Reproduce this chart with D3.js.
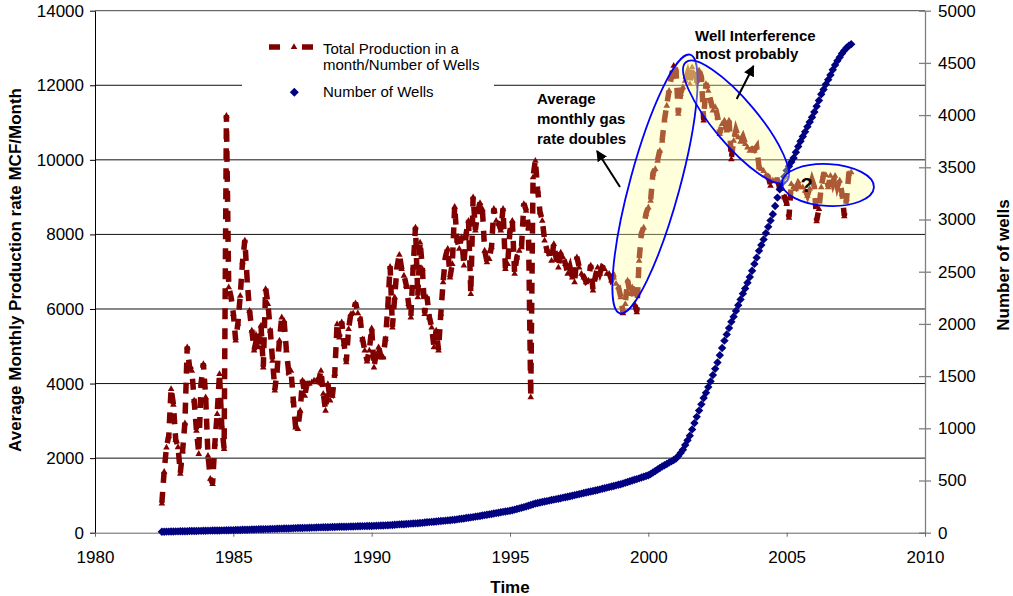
<!DOCTYPE html>
<html>
<head>
<meta charset="utf-8">
<script src="https://cdn.jsdelivr.net/npm/d3@7"></script>
<style>
  html, body { margin: 0; padding: 0; background: #fff; }
  svg { display: block; font-family: "Liberation Sans", Arial, sans-serif; }
</style>
</head>
<body>
<svg id="chart" width="1013" height="596"></svg>
<script>
// Monthly series, first month = June 1982
const startYear = 1982;
const startMonth = 6;

// Total production in a month / number of wells (MCF/Month)
const productionRate = [
  // 1982 Jun-Dec
  800, 1650, 2300, 2600, 3870, 3450, 2500,
  // 1983
  2310, 1600, 2200, 2950, 4990, 4450, 4360, 3560, 2750, 2130, 4000, 4540,
  // 1984
  3650, 2080, 1460, 1320, 2400, 3200, 4270, 2840, 2260, 11200, 6600, 6330,
  // 1985
  5880, 5170, 5620, 6370, 7270, 7850, 6780, 5970, 5440, 4900, 5170, 4990,
  // 1986
  5570, 4450, 6550, 6150, 5440, 4630, 3830, 4360, 5170, 5790, 5700, 4900,
  // 1987
  4320, 4360, 3560, 2840, 2800, 3290, 4100, 3690, 4000, 4010, 4050, 4100,
  // 1988
  4100, 4050, 4360, 3740, 3290, 4000, 3560, 3690, 4270, 5610, 5250, 5660,
  // 1989
  5080, 4590, 5480, 5880, 5900, 6170, 5900, 5750, 5200, 4900, 4610, 4900,
  // 1990
  5500, 4450, 4800, 4990, 4720, 4720, 5210, 6060, 7150, 5520, 6330, 7130,
  // 1991
  7470, 7090, 6910, 6640, 6150, 5790, 7130, 8200, 6330, 7800, 7090, 5880,
  // 1992
  6330, 5790, 5520, 4990, 5440, 4900, 5880, 6730, 7400, 7630, 6860, 7220,
  // 1993
  8760, 7850, 7630, 7940, 7180, 8030, 8380, 6420, 9010, 8120, 8610, 8860,
  // 1994
  8700, 7580, 7270, 7360, 7670, 8700, 8380, 8300, 8120, 8700, 7090, 7220,
  // 1995
  8120, 8380, 6960, 7400, 7580, 7670, 8830, 8650, 8200, 3650, 9550, 9990,
  // 1996
  9190, 8610, 8380, 7850, 7580, 7490, 7310, 7760, 7360, 7130, 7530, 7400,
  // 1997
  7220, 6960, 7130, 6860, 6730, 7400, 7130, 6960, 6860, 6730, 6780, 7180,
  // 1998
  6510, 6860, 7130, 6960, 7130, 7090, 6960, 6960, 6780, 6860, 6690, 6600,
  // 1999
  6330, 5900, 6150, 6780, 6420, 6600, 6150, 5930, 7310, 8030, 8200, 8560,
  // 2000
  8740, 8920, 9640, 9770, 9990, 10260, 10530, 11070, 11470, 11870, 12230, 12540,
  // 2001
  12410, 11250, 11780, 11960, 12140, 12320, 12050, 12500, 12320, 12140, 12410, 12230,
  // 2002
  11070, 12050, 11870, 11600, 11340, 11430, 11160, 10710, 10980, 11070, 10800, 11070,
  // 2003
  10030, 10530, 10800, 10620, 10500, 10620, 10440, 10350, 10260, 10300, 10260, 10350,
  // 2004
  9810, 9770, 9720, 9600, 9550, 9320, 9460, 9460, 9460, 9240, 9240, 9010,
  // 2005
  8830, 8460, 9370, 9280, 9240, 9370, 9280, 9280, 9190, 9050, 9240, 9460,
  // 2006
  9280, 8370, 8700, 9280, 9610, 9610, 9280, 9590, 9370, 9590, 9280, 9460,
  // 2007 Jan-May
  9100, 8500, 8970, 9640, 9680
];

// Number of producing wells
const wellCount = [
  // 1982 Jun-Dec
  0, 0, 1, 1, 2, 2, 3,
  // 1983
  3, 4, 4, 5, 5, 6, 6, 7, 7, 8, 8, 9,
  // 1984
  9, 10, 10, 11, 11, 12, 12, 13, 13, 14, 14, 15,
  // 1985
  15, 16, 17, 17, 18, 19, 19, 20, 21, 21, 22, 23,
  // 1986
  23, 24, 25, 25, 26, 27, 27, 28, 29, 29, 30, 31,
  // 1987
  31, 32, 33, 34, 35, 35, 36, 37, 37, 38, 39, 39,
  // 1988
  40, 41, 41, 42, 43, 43, 44, 45, 45, 46, 47, 47,
  // 1989
  48, 48, 49, 50, 50, 51, 52, 52, 53, 53, 54, 55,
  // 1990
  55, 56, 57, 58, 59, 60, 61, 62, 63, 64, 66, 68,
  // 1991
  70, 71, 72, 74, 75, 77, 78, 80, 81, 83, 85, 88,
  // 1992
  90, 92, 94, 96, 98, 100, 102, 104, 106, 108, 110, 113,
  // 1993
  115, 118, 121, 124, 127, 131, 134, 137, 140, 144, 147, 151,
  // 1994
  155, 159, 162, 166, 170, 174, 178, 182, 186, 190, 194, 197,
  // 1995
  200, 205, 211, 217, 223, 229, 235, 242, 249, 256, 263, 270,
  // 1996
  275, 280, 284, 289, 293, 298, 303, 307, 312, 316, 321, 326,
  // 1997
  330, 335, 340, 345, 350, 355, 360, 365, 370, 375, 380, 385,
  // 1998
  390, 395, 400, 405, 411, 416, 422, 427, 433, 438, 444, 450,
  // 1999
  455, 462, 469, 476, 483, 490, 497, 504, 511, 519, 526, 533,
  // 2000
  540, 553, 567, 581, 596, 610, 625, 637, 649, 662, 674, 687,
  // 2001
  700, 725, 755, 785, 830, 875, 920, 980, 1040, 1100, 1160, 1220,
  // 2002
  1280, 1330, 1385, 1440, 1500, 1560, 1620, 1690, 1760, 1830, 1890, 1950,
  // 2003
  2010, 2060, 2115, 2170, 2225, 2280, 2330, 2385, 2440, 2500, 2565, 2625,
  // 2004
  2690, 2745, 2800, 2860, 2920, 2980, 3040, 3120, 3200, 3280, 3340, 3400,
  // 2005
  3460, 3500, 3540, 3580, 3635, 3690, 3740, 3785, 3830, 3880, 3925, 3970,
  // 2006
  4020, 4075, 4130, 4190, 4235, 4285, 4330, 4375, 4425, 4470, 4510, 4545,
  // 2007 Jan-May
  4580, 4610, 4635, 4655, 4670
];

const xTicks = [1980, 1985, 1990, 1995, 2000, 2005, 2010];
const rateTicks = [0, 2000, 4000, 6000, 8000, 10000, 12000, 14000];
const wellTicks = [0, 500, 1000, 1500, 2000, 2500, 3000, 3500, 4000, 4500, 5000];

const legendLabels = [["Total Production in a", "month/Number of Wells"], ["Number of Wells"]];
const noteRateDoubles = ["Average", "monthly gas", "rate doubles"];
const noteInterference = ["Well Interference", "most probably"];

const FONT = '"Liberation Sans", Arial, sans-serif';
const MAROON = "#800000";
const NAVY = "#000080";

const svg = d3.select("#chart");

const x = d3.scaleLinear().domain([1980, 2010]).range([95, 925]);
const yRate = d3.scaleLinear().domain([0, 14000]).range([532.7, 10.7]);
const yWells = d3.scaleLinear().domain([0, 5000]).range([532.7, 10.7]);
const monthTime = i => startYear + (startMonth - 1 + i) / 12;

// horizontal gridlines from the rate axis
svg.append("g")
  .selectAll("line")
  .data(rateTicks.filter(v => v > 0))
  .join("line")
  .attr("x1", 95).attr("x2", 925)
  .attr("y1", d => yRate(d)).attr("y2", d => yRate(d))
  .attr("stroke", d => d === 14000 ? "#444" : "#111")
  .attr("stroke-width", 1);

// left axis
const gLeft = svg.append("g")
  .attr("transform", "translate(95,0)")
  .call(d3.axisLeft(yRate).tickValues(rateTicks).tickSize(5).tickSizeOuter(0).tickPadding(6).tickFormat(d3.format("d")));
gLeft.attr("font-size", 17).attr("font-family", FONT);
gLeft.select(".domain").attr("stroke", "#000");
gLeft.selectAll(".tick line").attr("stroke", "#000");
gLeft.selectAll(".tick text").attr("fill", "#000");

// right axis (ticks cross the axis line)
const gRight = svg.append("g")
  .attr("transform", "translate(925,0)")
  .call(d3.axisRight(yWells).tickValues(wellTicks).tickSize(6).tickSizeOuter(0).tickPadding(7).tickFormat(d3.format("d")));
gRight.attr("font-size", 17).attr("font-family", FONT);
gRight.select(".domain").attr("stroke", "#808080").attr("stroke-width", 1.3);
gRight.selectAll(".tick line").attr("x1", -6).attr("stroke", "#808080").attr("stroke-width", 1.3);
gRight.selectAll(".tick text").attr("fill", "#000");

// bottom axis
const gBottom = svg.append("g")
  .attr("transform", "translate(0,532.7)")
  .call(d3.axisBottom(x).tickValues(xTicks).tickSize(4).tickSizeOuter(0).tickPadding(14).tickFormat(d3.format("d")));
gBottom.attr("font-size", 17).attr("font-family", FONT);
gBottom.select(".domain").attr("stroke", "#666");
gBottom.selectAll(".tick line").attr("stroke", "#666");
gBottom.selectAll(".tick text").attr("fill", "#000");

// axis titles
svg.append("text")
  .attr("transform", "translate(21,270) rotate(-90)")
  .attr("text-anchor", "middle")
  .attr("font-size", 17).attr("font-weight", "bold")
  .text("Average Monthly Production rate MCF/Month");
svg.append("text")
  .attr("transform", "translate(1008.5,265) rotate(-90)")
  .attr("text-anchor", "middle")
  .attr("font-size", 17).attr("font-weight", "bold")
  .text("Number of wells");
svg.append("text")
  .attr("x", 510).attr("y", 593)
  .attr("text-anchor", "middle")
  .attr("font-size", 17).attr("font-weight", "bold")
  .text("Time");

// marker shapes
const triPath = "M0,-3.2L3.3,2.6L-3.3,2.6Z";
const diamondPath = r => `M0,${-r}L${r},0L0,${r}L${-r},0Z`;

// production series: thick dashed line + triangles
const prodLine = d3.line()
  .x((d, i) => x(monthTime(i)))
  .y(d => yRate(d));
svg.append("path")
  .datum(productionRate)
  .attr("d", prodLine)
  .attr("fill", "none")
  .attr("stroke", MAROON)
  .attr("stroke-width", 5.5)
  .attr("stroke-dasharray", "11,9");
svg.append("g")
  .selectAll("path")
  .data(productionRate)
  .join("path")
  .attr("transform", (d, i) => `translate(${x(monthTime(i))},${yRate(d)})`)
  .attr("d", triPath)
  .attr("fill", MAROON);

// well count series: diamonds
svg.append("g")
  .selectAll("path")
  .data(wellCount)
  .join("path")
  .attr("transform", (d, i) => `translate(${x(monthTime(i))},${yWells(d) - 1})`)
  .attr("d", diamondPath(4.2))
  .attr("fill", NAVY);

// legend
const legend = svg.append("g");
legend.append("rect")
  .attr("x", 242).attr("y", 28).attr("width", 252).attr("height", 82)
  .attr("fill", "#fff");
legend.append("line")
  .attr("x1", 269).attr("x2", 313).attr("y1", 47).attr("y2", 47)
  .attr("stroke", MAROON).attr("stroke-width", 5.5)
  .attr("stroke-dasharray", "11,22");
legend.append("path")
  .attr("transform", "translate(294,46.5)")
  .attr("d", triPath).attr("fill", MAROON);
legend.append("path")
  .attr("transform", "translate(294.3,92.3)")
  .attr("d", diamondPath(4.5)).attr("fill", NAVY);
legend.append("text")
  .attr("x", 323).attr("y", 54.3)
  .attr("font-size", 15)
  .selectAll("tspan")
  .data(legendLabels[0])
  .join("tspan")
  .attr("x", 323)
  .attr("dy", (d, i) => i === 0 ? 0 : 15.5)
  .text(d => d);
legend.append("text")
  .attr("x", 323).attr("y", 97.3)
  .attr("font-size", 15)
  .text(legendLabels[1][0]);

// highlighted regions
const regions = svg.append("g");
const ellipseSpecs = [
  { cx: 655, cy: 184, rx: 134, ry: 25, rot: -74.8 },
  { cx: 736, cy: 122, rx: 78, ry: 22, rot: 50 },
  { cx: 828, cy: 185, rx: 46, ry: 21, rot: 3 }
];
regions.selectAll("ellipse")
  .data(ellipseSpecs)
  .join("ellipse")
  .attr("transform", d => `translate(${d.cx},${d.cy}) rotate(${d.rot})`)
  .attr("rx", d => d.rx).attr("ry", d => d.ry)
  .attr("fill", "#FFFF99").attr("fill-opacity", 0.35)
  .attr("stroke", "#0000FF").attr("stroke-width", 1.8);

// annotations
const defs = svg.append("defs");
defs.append("marker")
  .attr("id", "arrowHead")
  .attr("viewBox", "0 0 10 10")
  .attr("refX", 9).attr("refY", 5)
  .attr("markerWidth", 5.5).attr("markerHeight", 5.5)
  .attr("markerUnits", "strokeWidth")
  .attr("orient", "auto")
  .append("path").attr("d", "M0,0L10,5L0,10Z").attr("fill", "#000");

svg.append("line")
  .attr("x1", 620).attr("y1", 187).attr("x2", 597).attr("y2", 151)
  .attr("stroke", "#000").attr("stroke-width", 2)
  .attr("marker-end", "url(#arrowHead)");
svg.append("line")
  .attr("x1", 736.7).attr("y1", 99).attr("x2", 753.5).attr("y2", 66)
  .attr("stroke", "#000").attr("stroke-width", 2)
  .attr("marker-end", "url(#arrowHead)");

svg.append("text")
  .attr("font-size", 15).attr("font-weight", "bold")
  .selectAll("tspan")
  .data(noteRateDoubles)
  .join("tspan")
  .attr("x", 537)
  .attr("y", (d, i) => 104 + i * 20)
  .text(d => d);

svg.append("text")
  .attr("font-size", 15).attr("font-weight", "bold")
  .selectAll("tspan")
  .data(noteInterference)
  .join("tspan")
  .attr("x", 695)
  .attr("y", (d, i) => 40.5 + i * 18.5)
  .text(d => d);

svg.append("text")
  .attr("x", 806.7).attr("y", 191.7)
  .attr("text-anchor", "middle")
  .attr("font-size", 20).attr("font-weight", "bold")
  .text("?");
</script>
</body>
</html>
